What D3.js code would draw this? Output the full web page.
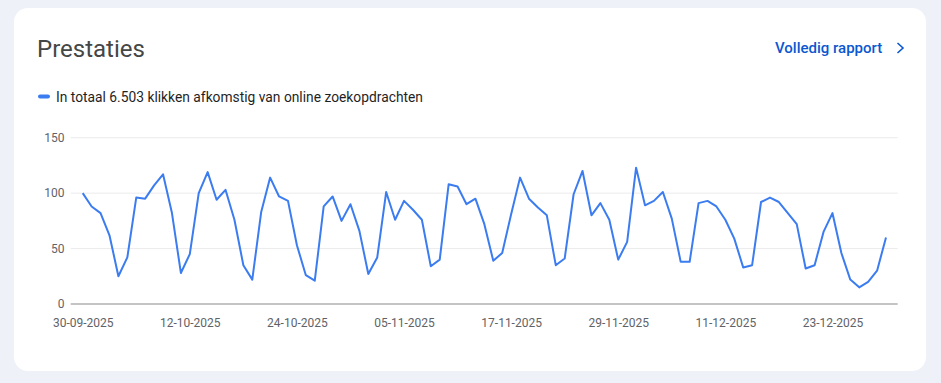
<!DOCTYPE html>
<html>
<head>
<meta charset="utf-8">
<script src="https://cdn.jsdelivr.net/npm/d3@7"></script>
<style>
  html, body { margin: 0; padding: 0; background: #eef1f8; }
  svg { display: block; }
</style>
</head>
<body>
<svg id="chart" width="941" height="383"></svg>
<script>
const startDate = "2025-09-30";
const clicks = [
  100, 88, 82, 62, 25, 42, 96, 95, 107, 117,
  82, 28, 45, 100, 119, 94, 103, 76, 35, 22,
  83, 114, 97, 93, 53, 26, 21, 88, 97, 75,
  90, 66, 27, 42, 101, 76, 93, 85, 76, 34,
  40, 108, 106, 90, 95, 72, 39, 46, 81, 114,
  95, 87, 80, 35, 41, 99, 120, 80, 91, 76,
  40, 56, 123, 89, 93, 101, 77, 38, 38, 91,
  93, 88, 76, 59, 33, 35, 92, 96, 92, 82,
  72, 32, 35, 65, 82, 46, 22, 15, 20, 30, 60
];
const yTicks = [0, 50, 100, 150];
const xTickLabels = ["30-09-2025", "12-10-2025", "24-10-2025", "05-11-2025", "17-11-2025", "29-11-2025", "11-12-2025", "23-12-2025"];
const title = "Prestaties";
const linkText = "Volledig rapport";
const legendText = "In totaal 6.503 klikken afkomstig van online zoekopdrachten";

const parse = d3.timeParse("%Y-%m-%d");
const parseLabel = d3.timeParse("%d-%m-%Y");
const fmt = d3.timeFormat("%d-%m-%Y");
const t0 = parse(startDate);
const data = clicks.map((v, i) => ({ date: d3.timeDay.offset(t0, i), value: v }));

const svg = d3.select("#chart");
const font = "Roboto, 'Noto Sans', sans-serif";

// card
svg.append("rect").attr("x", 14).attr("y", 8).attr("width", 912).attr("height", 363)
  .attr("rx", 14).attr("fill", "#ffffff");

svg.append("text").attr("x", 37).attr("y", 57).text(title)
  .attr("font-family", font).attr("font-size", 24).attr("fill", "#444746");

svg.append("text").attr("x", 775).attr("y", 53).text(linkText)
  .attr("font-family", font).attr("font-size", 15).attr("font-weight", 500).attr("fill", "#0b57d0");
svg.append("path").attr("d", "M897.5,43 L903,48 L897.5,53")
  .attr("fill", "none").attr("stroke", "#0b57d0").attr("stroke-width", 1.6);

// legend
svg.append("rect").attr("x", 38).attr("y", 94.5).attr("width", 12).attr("height", 4).attr("rx", 2)
  .attr("fill", "#3b7cf0");
svg.append("text").attr("x", 56).attr("y", 101.5).text(legendText)
  .attr("font-family", font).attr("font-size", 13.8).attr("fill", "#1f1f1f");

const x = d3.scaleTime().domain([data[0].date, data[data.length - 1].date]).range([82.7, 886]);
const y = d3.scaleLinear().domain([0, 150]).range([304, 137.7]);
const gridX0 = 70.7, gridX1 = 897.7;

// grid
const g = svg.append("g");
g.selectAll("line.grid").data(yTicks.filter(d => d > 0)).join("line")
  .attr("x1", gridX0).attr("x2", gridX1)
  .attr("y1", d => y(d)).attr("y2", d => y(d))
  .attr("stroke", "#ebebeb").attr("stroke-width", 1);

// y axis labels
const yAxis = d3.axisLeft(y).tickValues(yTicks).tickSize(0).tickPadding(0);
const yg = svg.append("g").attr("transform", "translate(64.5,0)").call(yAxis);
yg.select(".domain").remove();
yg.selectAll("text").attr("font-family", font).attr("font-size", 12).attr("fill", "#5f6368");

// baseline
svg.append("line").attr("x1", gridX0).attr("x2", gridX1).attr("y1", y(0)).attr("y2", y(0))
  .attr("stroke", "#c4c4c4").attr("stroke-width", 2);

// x axis
const xAxis = d3.axisBottom(x).tickValues(xTickLabels.map(s => parseLabel(s))).tickFormat(fmt).tickSize(0).tickPadding(0);
const xg = svg.append("g").attr("transform", "translate(0,318)").call(xAxis);
xg.select(".domain").remove();
xg.selectAll("text").attr("font-family", font).attr("font-size", 12).attr("fill", "#5f6368");

// line
const line = d3.line().x(d => x(d.date)).y(d => y(d.value));
svg.append("path").datum(data).attr("d", line)
  .attr("fill", "none").attr("stroke", "#3b7cf0").attr("stroke-width", 2)
  .attr("stroke-linejoin", "round");
</script>
</body>
</html>
